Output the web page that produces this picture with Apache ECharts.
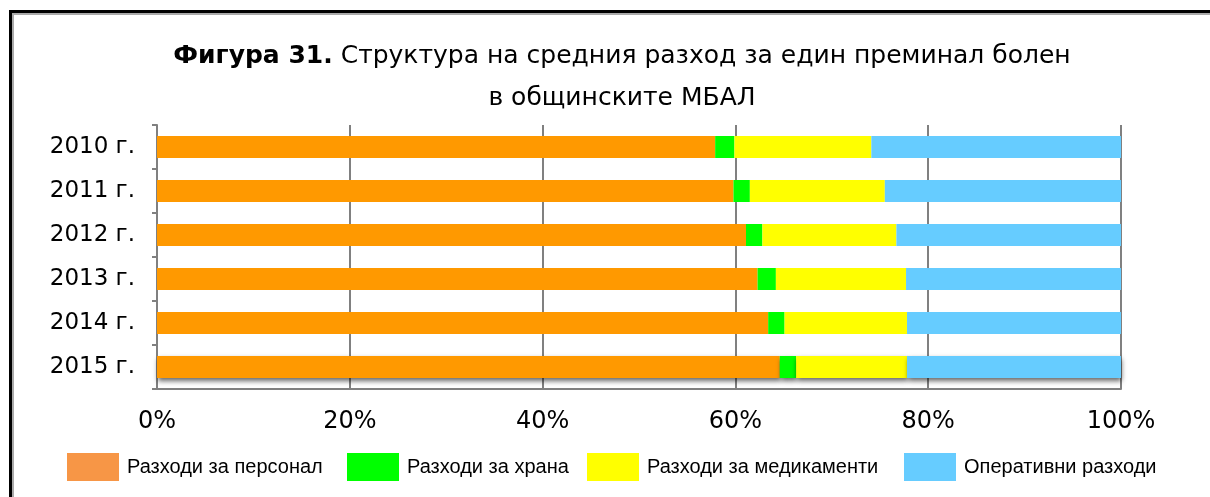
<!DOCTYPE html>
<html><head><meta charset="utf-8">
<script src="https://cdn.jsdelivr.net/npm/echarts@6/dist/echarts.min.js"></script>
<style>html,body{margin:0;padding:0;background:#fff}#c{width:1210px;height:497px}</style>
</head><body><div id="c"></div>
<script>
const categories = ['2010 г.','2011 г.','2012 г.','2013 г.','2014 г.','2015 г.'];
const personnel = [57.9, 59.8, 61.1, 62.3, 63.4, 64.6];
const food = [2.0, 1.7, 1.7, 1.9, 1.7, 1.7];
const medicines = [14.2, 14.0, 13.9, 13.5, 12.7, 11.5];
const operating = [25.9, 24.5, 23.3, 22.3, 22.2, 22.2];
const seriesNames = ['Разходи за персонал','Разходи за храна','Разходи за медикаменти','Оперативни разходи'];
const xTicks = [0, 20, 40, 60, 80, 100];

const barColors = ['#FF9900','#00FF00','#FFFF00','#66CCFF'];
const legendColors = ['#F79646','#00FF00','#FFFF00','#66CCFF'];
const FONT = 'DejaVu Sans, Liberation Sans, Arial, sans-serif';
const LFONT = 'Liberation Sans, Arial, sans-serif';
const chart = echarts.init(document.getElementById('c'));
const allData = [personnel, food, medicines, operating];
const legendLeft = [62, 342, 582, 899];
const series = allData.map((arr, i) => ({
  name: seriesNames[i], type: 'bar', stack: 'total', barCategoryGap: '50%',
  itemStyle: {color: legendColors[i]},
  data: arr.map((v, j) => ({value: v, itemStyle: Object.assign({color: barColors[i]},
    j === arr.length - 1 ? {shadowColor: 'rgba(0,0,0,0.6)', shadowBlur: 5, shadowOffsetY: 3, shadowOffsetX: 1} : {})})),
  emphasis: {disabled: true}
}));
chart.setOption({
  animation: false,
  title: {
    text: '{b|Фигура 31.} Структура на средния разход за един преминал болен\nв общинските МБАЛ',
    left: 617, top: 30, textAlign: 'center',
    textStyle: {fontFamily: FONT, fontSize: 25, fontWeight: 'normal', color: '#000', lineHeight: 42,
      rich: {b: {fontFamily: FONT, fontSize: 25, fontWeight: 'bold', color: '#000'}}}
  },
  legend: seriesNames.map((n, i) => ({
    data: [n], left: legendLeft[i], top: 448, itemWidth: 52, itemHeight: 28, itemGap: 0,
    icon: 'rect',
    textStyle: {fontFamily: LFONT, fontSize: 20, color: '#000', padding: [0,0,0,3]}
  })),
  grid: {left: 157, right: 89, top: 125, height: 264, containLabel: false},
  xAxis: {
    type: 'value', min: 0, max: 100, interval: 20,
    axisLabel: {formatter: v => xTicks.includes(v) ? v + '%' : '', fontFamily: FONT, fontSize: 24, color: '#000', margin: 21},
    axisLine: {show: true, lineStyle: {color: '#808080', width: 2}},
    axisTick: {show: false},
    splitLine: {show: true, lineStyle: {color: '#808080', width: 2}}
  },
  yAxis: {
    type: 'category', data: categories, inverse: true,
    axisLabel: {fontFamily: FONT, fontSize: 23, color: '#000', margin: 22},
    axisLine: {show: true, lineStyle: {color: '#808080', width: 2}},
    axisTick: {show: true, length: 5, lineStyle: {color: '#808080', width: 2}}
  },
  graphic: [
    {type: 'rect', shape: {x: 9, y: 10, width: 1201, height: 3}, style: {fill: '#000'}},
    {type: 'rect', shape: {x: 12, y: 13, width: 1198, height: 2}, style: {fill: '#aaa'}},
    {type: 'rect', shape: {x: 9, y: 10, width: 3, height: 487}, style: {fill: '#000'}},
    {type: 'rect', shape: {x: 12, y: 13, width: 2, height: 484}, style: {fill: '#aaa'}}
  ],
  series: series
});
</script></body></html>
